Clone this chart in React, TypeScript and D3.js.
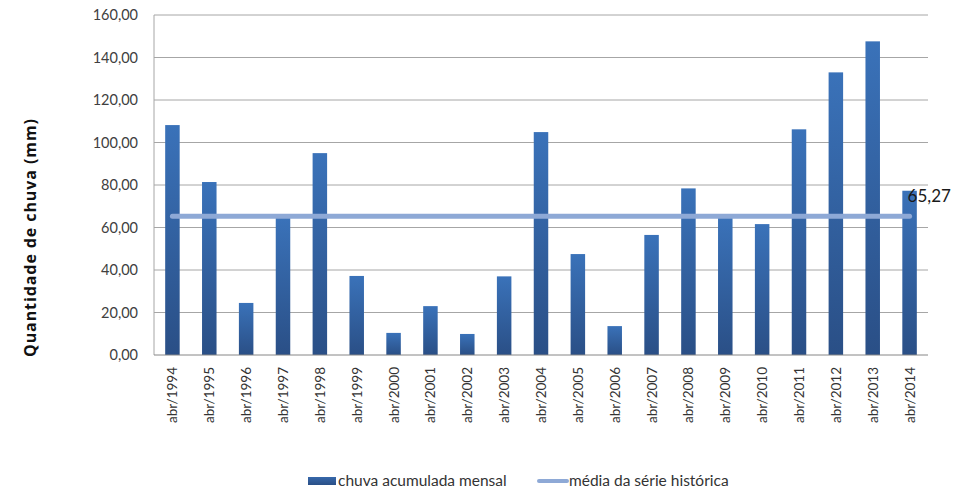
import React from "react";
import * as d3 from "d3";

const categories = ["abr/1994","abr/1995","abr/1996","abr/1997","abr/1998","abr/1999","abr/2000","abr/2001","abr/2002","abr/2003","abr/2004","abr/2005","abr/2006","abr/2007","abr/2008","abr/2009","abr/2010","abr/2011","abr/2012","abr/2013","abr/2014"];
const rainfall = [108.2, 81.4, 24.5, 64.5, 95.0, 37.2, 10.4, 23.0, 9.9, 37.0, 104.9, 47.5, 13.6, 56.5, 78.4, 64.5, 61.6, 106.2, 133.0, 147.6, 77.3];
const historicalMean = 65.27;
const yTicks = [0, 20, 40, 60, 80, 100, 120, 140, 160];
const seriesNames = ["chuva acumulada mensal", "média da série histórica"];

const W = 961, H = 495;
const margin = { left: 154, right: 33, top: 15, bottom: 140 };

export default function App() {
  const x = d3.scaleBand<string>().domain(categories).range([margin.left, W - margin.right]).paddingInner(0.6).paddingOuter(0.3);
  const y = d3.scaleLinear().domain([0, 160]).range([H - margin.bottom, margin.top]);
  const fmt = (v: number) => v.toFixed(2).replace(".", ",");
  const font = "Lato, 'Open Sans', sans-serif";
  const bw = 14.5;
  const cx = (c: string) => (x(c) as number) + x.bandwidth() / 2;
  const first = cx(categories[0]);
  const last = cx(categories[categories.length - 1]);
  const lineGen = d3.line<[number, number]>().x(d => d[0]).y(d => d[1]);
  return (
    <svg width={W} height={H} style={{ position: "absolute", left: 0, top: 0, background: "#fff" }} fontFamily={font}>
      <defs>
        <linearGradient id="barGrad" x1="0" y1="0" x2="0" y2="1">
          <stop offset="0" stopColor="#3A72B9" />
          <stop offset="1" stopColor="#2A4F86" />
        </linearGradient>
        <linearGradient id="legGrad" x1="0" y1="0" x2="0" y2="1">
          <stop offset="0" stopColor="#3768AA" />
          <stop offset="1" stopColor="#2A4F86" />
        </linearGradient>
      </defs>
      {yTicks.map(t => (
        <g key={t}>
          {t > 0 && <line x1={margin.left} x2={W - margin.right} y1={y(t)} y2={y(t)} stroke="#A6A6A6" strokeWidth={1} />}
          <text x={138} y={y(t)} dy="0.35em" textAnchor="end" fontSize={14.5} fill="#404040">{fmt(t)}</text>
        </g>
      ))}
      <line x1={margin.left} x2={margin.left} y1={margin.top} y2={y(0)} stroke="#A6A6A6" />
      {categories.map((c, i) => (
        <rect key={c} x={cx(c) - bw / 2} y={y(rainfall[i])} width={bw} height={y(0) - y(rainfall[i])} fill="url(#barGrad)" />
      ))}
      <line x1={margin.left} x2={W - margin.right} y1={y(0)} y2={y(0)} stroke="#868686" />
      <path d={lineGen([[first, y(historicalMean)], [last, y(historicalMean)]]) || ""} stroke="#8EA9D6" strokeWidth={5} strokeLinecap="round" fill="none" />
      <text x={last - 2} y={y(historicalMean) - 14} fontSize={17} fill="#1a1a1a">{fmt(historicalMean)}</text>
      {categories.map(c => (
        <text key={c} transform={`translate(${cx(c) + 5},${y(0) + 12}) rotate(-90)`} textAnchor="end" fontSize={13.5} fill="#333">{c}</text>
      ))}
      <text transform={`translate(36,${238}) rotate(-90)`} textAnchor="middle" fontSize={16} fontWeight="bold" fill="#111" fontFamily="'Open Sans', sans-serif" textLength={238} lengthAdjust="spacing">Quantidade de chuva (mm)</text>
      <rect x={308} y={477} width={28} height={8} fill="url(#legGrad)" />
      <text x={338} y={486} fontSize={15.5} fill="#333">{seriesNames[0]}</text>
      <line x1={539} x2={567} y1={481} y2={481} stroke="#8EA9D6" strokeWidth={4} strokeLinecap="round" />
      <text x={569} y={486} fontSize={15.5} fill="#333">{seriesNames[1]}</text>
    </svg>
  );
}
